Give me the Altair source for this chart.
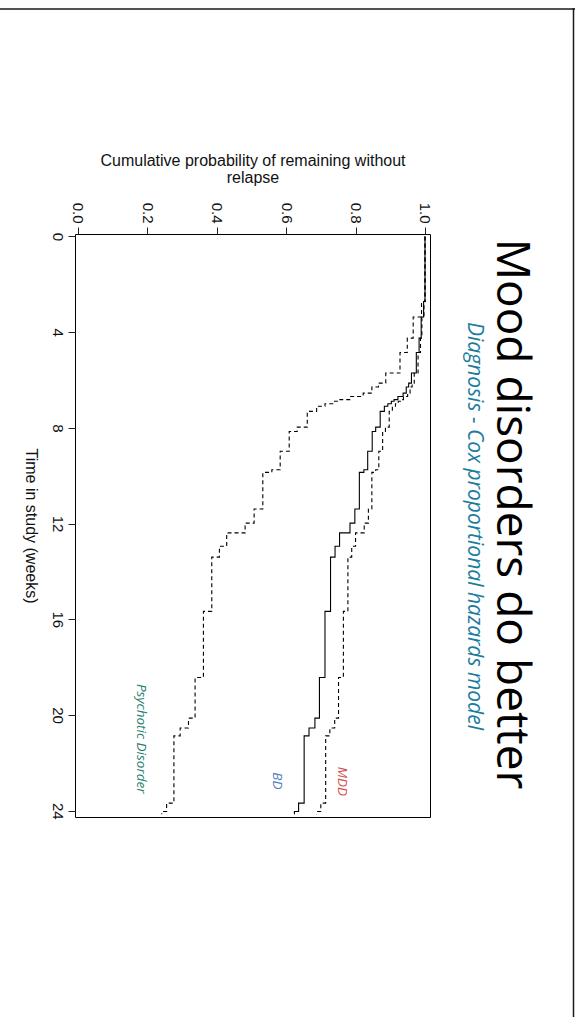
import altair as alt
import pandas as pd

# ---- data (weeks, cumulative probability) ----
times = [0.0, 2.72, 3.37, 4.25, 4.85, 5.71, 6.13, 6.29, 6.55, 6.69, 6.82, 6.89,
         6.99, 7.10, 7.31, 7.97, 8.15, 8.98, 9.75, 9.86, 11.39, 11.98, 12.39,
         12.95, 13.40, 15.67, 18.43, 20.13, 20.54, 20.87, 23.68, 24.03, 24.15]
psychotic = [1.0, 0.990, 0.966, 0.949, 0.928, 0.887, 0.866, 0.847, 0.822, 0.784,
             0.755, 0.736, 0.712, 0.688, 0.661, 0.632, 0.609, 0.583, 0.559, 0.533,
             0.508, 0.482, 0.429, 0.408, 0.386, 0.362, 0.338, 0.319, 0.295, 0.277,
             0.256, 0.242, 0.242]
bd = [1.0, 0.996, 0.989, 0.983, 0.975, 0.961, 0.953, 0.946, 0.937, 0.922, 0.911,
      0.903, 0.893, 0.883, 0.871, 0.858, 0.848, 0.835, 0.824, 0.811, 0.798, 0.784,
      0.754, 0.741, 0.728, 0.712, 0.696, 0.683, 0.666, 0.652, 0.636, 0.624, 0.624]
mdd = [1.0, 0.997, 0.991, 0.987, 0.980, 0.969, 0.963, 0.957, 0.950, 0.938, 0.929,
       0.923, 0.915, 0.906, 0.897, 0.886, 0.878, 0.867, 0.858, 0.847, 0.837, 0.825,
       0.800, 0.789, 0.778, 0.765, 0.751, 0.740, 0.726, 0.714, 0.700, 0.688, 0.688]

groups = ["Psychotic Disorder", "BD", "MDD"]
label_time = [20.99, 22.75, 22.77]
label_prob = [0.182, 0.574, 0.760]
label_colors = ["#1f8070", "#4f81bd", "#d05050"]

time_ticks = [0, 4, 8, 12, 16, 20, 24]
prob_ticks = [0.0, 0.2, 0.4, 0.6, 0.8, 1.0]

title_text = "Mood disorders do better"
subtitle_text = "Diagnosis - Cox proportional hazards model"

# ---- tables ----
rows = []
for g, vals in zip(groups, [psychotic, bd, mdd]):
    for i, (t, s) in enumerate(zip(times, vals)):
        rows.append({"group": g, "time": t, "surv": s, "idx": i})
curves = pd.DataFrame(rows)
labels = pd.DataFrame({"group": groups, "time": label_time, "surv": label_prob})

W, H = 355, 583

xscale = alt.Scale(domain=[-0.0078, 1.0144], nice=False, zero=False)
yscale = alt.Scale(domain=[-0.1, 24.26], nice=False, zero=False, reverse=True)

xaxis = alt.Axis(orient="top", values=prob_ticks, format=".1f", labelAngle=90,
                 labelAlign="right", labelBaseline="middle", tickSize=7,
                 labelPadding=4, domain=False, grid=False,
                 title=["Cumulative probability of remaining without", "relapse"],
                 titlePadding=17, titleLineHeight=17, titleFontSize=16,
                 titleFontWeight="normal", labelFontSize=15, tickColor="#222",
                 labelColor="#111", titleColor="#111")
yaxis = alt.Axis(orient="left", values=time_ticks, labelAngle=90,
                 labelAlign="center", labelBaseline="top", tickSize=7,
                 labelPadding=4, domain=False, grid=False,
                 title="Time in study (weeks)", titleAngle=90, titleBaseline="top",
                 titlePadding=11, titleFontSize=16, titleFontWeight="normal",
                 labelFontSize=15, tickColor="#222", labelColor="#111",
                 titleColor="#111")

lines = alt.Chart(curves).mark_line(interpolate="step-before", color="black",
                                    strokeWidth=1.1).encode(
    x=alt.X("surv:Q", scale=xscale, axis=xaxis),
    y=alt.Y("time:Q", scale=yscale, axis=yaxis),
    detail="group:N",
    order=alt.Order("idx:Q"),
    strokeDash=alt.StrokeDash("group:N", scale=alt.Scale(domain=groups,
                              range=[[4, 3], [1, 0], [4, 3]]), legend=None),
)

texts = alt.Chart(labels).mark_text(angle=90, align="center", baseline="middle",
                                    font="Open Sans", fontStyle="italic",
                                    fontSize=13.5).encode(
    x=alt.X("surv:Q", scale=xscale),
    y=alt.Y("time:Q", scale=yscale),
    text="group:N",
    color=alt.Color("group:N", scale=alt.Scale(domain=groups, range=label_colors),
                    legend=None),
)

title = alt.Chart(pd.DataFrame({"t": [title_text]})).mark_text(
    angle=90, align="center", baseline="middle", font="Open Sans",
    fontSize=46, color="black").encode(
    x=alt.value(436), y=alt.value(280), text="t:N")

subtitle = alt.Chart(pd.DataFrame({"t": [subtitle_text]})).mark_text(
    angle=90, align="center", baseline="middle", font="Open Sans",
    fontStyle="italic", fontSize=21, color="#1b7c9e").encode(
    x=alt.value(399), y=alt.value(292), text="t:N")

frame = alt.Chart(pd.DataFrame({"a": [0]})).mark_rule(color="#1a1a1a", strokeWidth=1.5)
top_line = frame.encode(x=alt.value(-75), x2=alt.value(500), y=alt.value(-225))
right_line = frame.encode(x=alt.value(498.5), y=alt.value(-226), y2=alt.value(791))

chart = alt.layer(lines, texts, title, subtitle, top_line, right_line).properties(
    width=W, height=H,
    autosize=alt.AutoSizeParams(type="none"),
    padding={"left": 75, "top": 234, "right": 145, "bottom": 200},
    background="white",
).configure_view(stroke="black", strokeWidth=1).configure_axis(
    labelFont="Liberation Sans", titleFont="Liberation Sans")

chart.save("out.html", embed_options={"renderer": "svg", "actions": False})
